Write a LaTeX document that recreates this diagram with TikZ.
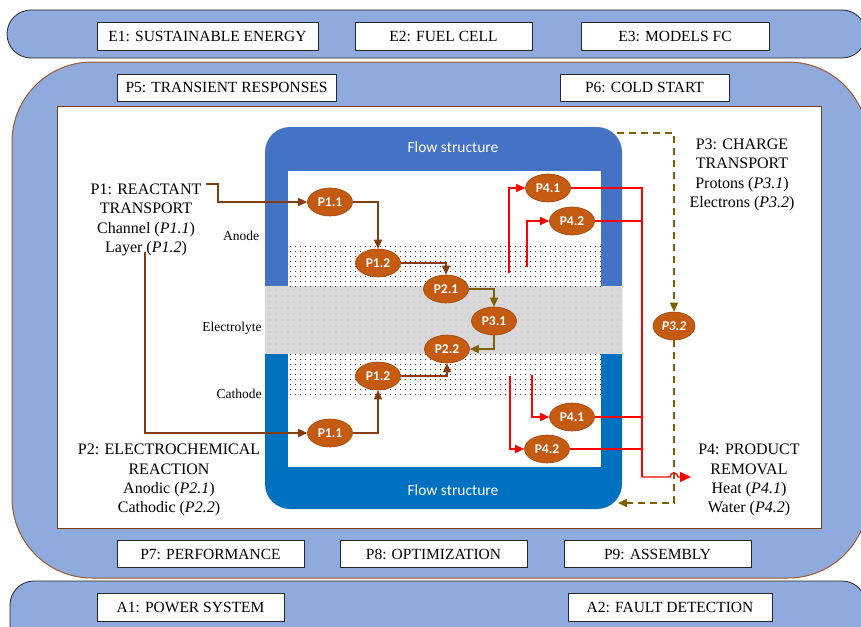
\documentclass[tikz,border=0pt]{standalone}
\usepackage{fontspec}
\setmainfont{Liberation Serif}
\newfontfamily\calib{Carlito}
\usetikzlibrary{shapes.geometric,arrows.meta,patterns.meta}
\definecolor{bgblue}{HTML}{8FAADC}
\definecolor{midbrown}{HTML}{9C5B2E}
\definecolor{innerbrown}{HTML}{843C0C}
\definecolor{anodeblue}{HTML}{4472C4}
\definecolor{cathblue}{HTML}{0070C0}
\definecolor{elgray}{HTML}{D9D9D9}
\definecolor{ora}{HTML}{C55A11}
\definecolor{oradark}{HTML}{9E470D}
\definecolor{brn}{HTML}{843C0C}
\definecolor{olv}{HTML}{7F6000}
\definecolor{rd}{HTML}{FF0000}
\tikzset{
  boxnode/.style={draw=black!85, line width=0.7pt, fill=white, inner sep=0pt,
    font=\fontsize{15.5}{18}\selectfont},
  ell/.style={ellipse, fill=ora, draw=oradark, line width=0.6pt, minimum width=45pt,
    minimum height=28pt, inner sep=0pt, text=white,
    font=\calib\bfseries\fontsize{13.5}{15}\selectfont},
  lbl/.style={align=center, inner sep=0pt, font=\fontsize{16}{19.2}\selectfont},
  side/.style={inner sep=0pt, font=\fontsize{13.5}{15}\selectfont},
  flow/.style={inner sep=0pt, text=white, font=\calib\fontsize{15.5}{18}\selectfont},
  brnarrow/.style={draw=brn, line width=1.4pt, -{Triangle[length=9pt,width=8pt]}},
  olvarrow/.style={draw=olv, line width=1.4pt, -{Triangle[length=9pt,width=8pt]}},
  redline/.style={draw=rd, line width=1.4pt},
  redarrow/.style={draw=rd, line width=1.4pt, -{Triangle[length=9pt,width=8pt]}},
  dasharrow/.style={draw=olv, line width=1.4pt, dash pattern=on 7pt off 5pt, -{Triangle[length=9pt,width=8pt]}}
}
\begin{document}
\begin{tikzpicture}[x=1pt,y=-1pt]
\useasboundingbox (0,0) rectangle (861,626);
\fill[white] (0,0) rectangle (861,626);
\begin{scope}
\clip (0,0) rectangle (861,626);
\filldraw[fill=bgblue, draw=black!85, line width=0.8pt, rounded corners=24pt] (7,10) rectangle (866,58);
\filldraw[fill=bgblue, draw=midbrown, line width=1pt, rounded corners=80pt] (12,62) rectangle (868,578);
\filldraw[fill=bgblue, draw=black!85, line width=0.8pt, rounded corners=24pt] (10,581) rectangle (866,660);
\end{scope}
% inner white frame
\draw[fill=white, draw=innerbrown, line width=0.8pt] (57,106) rectangle (821,528);

% boxes
\node[boxnode, minimum width=221pt, minimum height=28pt] (e1) at (207.5,36) {E1: SUSTAINABLE ENERGY};
\node[boxnode, minimum width=177pt, minimum height=28pt] (e2) at (443.5,36) {E2: FUEL CELL};
\node[boxnode, minimum width=188pt, minimum height=28pt] (e3) at (675,36) {E3: MODELS FC};
\node[boxnode, minimum width=219pt, minimum height=27pt] (p5) at (226.5,87.5) {P5: TRANSIENT RESPONSES};
\node[boxnode, minimum width=169pt, minimum height=27pt] (p6) at (644.5,87.5) {P6: COLD START};
\node[boxnode, minimum width=187pt, minimum height=27pt] (p7) at (210.5,554) {P7: PERFORMANCE};
\node[boxnode, minimum width=187pt, minimum height=27pt] (p8) at (433.5,554) {P8: OPTIMIZATION};
\node[boxnode, minimum width=187pt, minimum height=27pt] (p9) at (657.5,554) {P9: ASSEMBLY};
\node[boxnode, minimum width=187pt, minimum height=28pt] (a1) at (190.5,607) {A1: POWER SYSTEM};
\node[boxnode, minimum width=204pt, minimum height=28pt] (a2) at (670,607.5) {A2: FAULT DETECTION};

% fuel cell body
\begin{scope}
\clip (250,100) rectangle (640,320);
\fill[anodeblue, rounded corners=25pt] (265,127) rectangle (622,509);
\end{scope}
\begin{scope}
\clip (250,320) rectangle (640,520);
\fill[cathblue, rounded corners=25pt] (265,127) rectangle (622,509);
\end{scope}
\fill[elgray] (265,286) rectangle (622,354);
\fill[pattern={Dots[distance=6pt, radius=0.7pt]}, pattern color=black!28] (265,286) rectangle (622,354);
\fill[white] (288,171) rectangle (601,286);
\fill[pattern={Dots[distance=5.4pt, radius=0.6pt]}, pattern color=black!85] (288,242) rectangle (601,286);
\fill[white] (288,354) rectangle (601,467);
\fill[pattern={Dots[distance=5.4pt, radius=0.6pt]}, pattern color=black!85] (288,354) rectangle (601,398);

\node[flow] (fst) at (453,147) {Flow structure};
\node[flow] (fsb) at (453,490) {Flow structure};
\node[side] (an) at (241,236) {Anode};
\node[side] (el) at (232,328) {Electrolyte};
\node[side] (ca) at (239,394) {Cathode};

% text labels
\node[lbl] (t1) at (146,220) {P1: REACTANT\\TRANSPORT\\Channel (\textit{P1.1})\\Layer (\textit{P1.2})};
\node[lbl] (t2) at (169,480) {P2: ELECTROCHEMICAL\\REACTION\\Anodic (\textit{P2.1})\\Cathodic (\textit{P2.2})};
\node[lbl] (t3) at (742,175) {P3: CHARGE\\TRANSPORT\\Protons (\textit{P3.1})\\Electrons (\textit{P3.2})};
\node[lbl] (t4) at (749,480) {P4: PRODUCT\\REMOVAL\\Heat (\textit{P4.1})\\Water (\textit{P4.2})};

% ellipses
\node[ell] (a11) at (330,202) {P1.1};
\node[ell] (a12) at (378,263) {P1.2};
\node[ell] (a21) at (446,289) {P2.1};
\node[ell] (p31) at (494,321) {P3.1};
\node[ell] (p22) at (447,349) {P2.2};
\node[ell] (c12) at (378,376) {P1.2};
\node[ell] (c11) at (330,433) {P1.1};
\node[ell] (a41) at (548,188) {P4.1};
\node[ell] (a42) at (572,221) {P4.2};
\node[ell] (b41) at (572,417) {P4.1};
\node[ell] (b42) at (547,449) {P4.2};
\node[ell, minimum width=42pt, minimum height=28pt, font=\calib\bfseries\itshape\fontsize{13.5}{15}\selectfont] (p32) at (674,326) {P3.2};

% coordinates
\coordinate (s1) at (206,184);
\coordinate (s2) at (145,252);
\coordinate (r1) at (509,273);
\coordinate (r2) at (527,267);
\coordinate (r3) at (510,376);
\coordinate (r4) at (532,375);
\coordinate (rc) at (642,477);
\coordinate (rend) at (691,477);
\coordinate (d1) at (617,133);
\coordinate (d2) at (618,503);

% brown / olive arrows
\draw[brnarrow] (s1) -- ++(12,0) |- (a11);
\draw[brnarrow] (a11) -| (a12);
\draw[brnarrow] (a12) -| (a21);
\draw[olvarrow] (a21) -| (p31);
\draw[olvarrow] (p31) |- (p22);
\draw[brnarrow] (c12) -| (p22);
\draw[brnarrow] (c11) -| (c12);
\draw[brnarrow] (s2) |- (c11);

% red lines
\draw[redarrow] (r1) |- (a41);
\draw[redarrow] (r2) |- (a42);
\draw[redarrow] (r3) |- (b42);
\draw[redarrow] (r4) |- (b41);
\draw[redline] (a41) -| (rc);
\draw[redline] (a42) -- (a42 -| rc);
\draw[redline] (b41) -- (b41 -| rc);
\draw[redline] (b42) -- (b42 -| rc);

% dashed
\draw[dasharrow] (d1) -| (p32);
\draw[dasharrow] (p32) |- (d2);

\draw[draw=rd, line width=1.4pt, -{Triangle[length=11pt,width=10pt]}] (rc) -- ++(28,0) arc[start angle=180, end angle=360, radius=4] -- (rend);
\end{tikzpicture}
\end{document}
